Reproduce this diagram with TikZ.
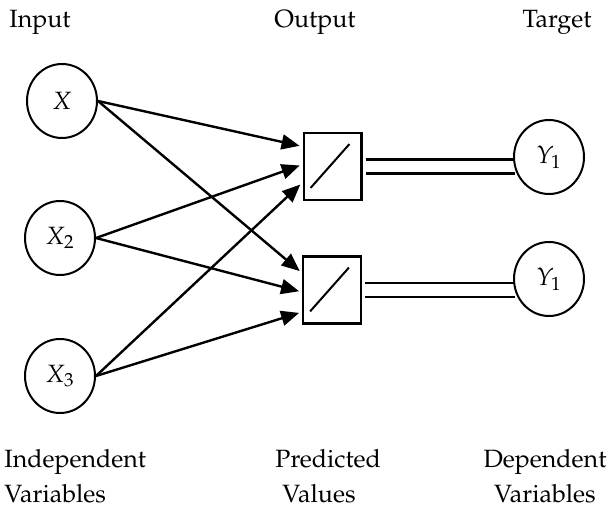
\documentclass[tikz,border=0pt]{standalone}
\usepackage[T1]{fontenc}
\usepackage{mathpazo}
\usetikzlibrary{arrows.meta}
\usetikzlibrary{shapes.geometric}
\usetikzlibrary{backgrounds}
\usetikzlibrary{positioning}

\tikzset{
  varnode/.style={draw, ellipse, line width=1pt, minimum width=35pt, minimum height=37pt, inner sep=0pt,
    font=\fontsize{12.5}{15}\selectfont},
  actbox/.style={draw, line width=1.1pt, minimum width=28.9pt, minimum height=33.4pt, inner sep=0pt,
    path picture={\draw[line width=1pt] ([shift={(3.5pt,6pt)}]path picture bounding box.south west)
      -- ([shift={(-6pt,-5.5pt)}]path picture bounding box.north east);}},
  wire/.style={-{Triangle[length=9pt,width=7.5pt]}, line width=1.2pt, shorten >=1.5pt},
  outwire/.style={double, line width=1.1pt, double distance=5.9pt, shorten <=1.5pt, shorten >=-1pt},
  lbl/.style={font=\fontsize{12.5}{17.5}\selectfont, inner sep=0pt}
}

\begin{document}
\begin{tikzpicture}[x=0.5pt, y=-0.5pt]
    \useasboundingbox (0,0) rectangle (609,507);

    % column titles
    \node[lbl, anchor=base] (inlbl) at (40,28) {Input};
    \node[lbl, anchor=base] (outlbl) at (315,28) {Output};
    \node[lbl, anchor=base] (tgtlbl) at (557,28) {Target};

    % input variables
    \node[varnode] (x1) at (62,101) {$X$};
    \node[varnode] (x2) at (60,238) {$X_2$};
    \node[varnode] (x3) at (60,376) {$X_3$};

    % output units
    \node[actbox] (b1) at (332.5,166.5) {};
    \node[actbox] (b2) at (332,290) {};

    % targets
    \node[varnode] (y1) at (549,157) {$Y_1$};
    \node[varnode] (y2) at (549,279) {$Y_1$};

    % weights
    \draw[wire] (x1.east) -- ([yshift=10pt]b1.west);
    \draw[wire] (x1.east) -- ([yshift=8.5pt]b2.west);
    \draw[wire] (x2.east) -- ([yshift=1pt]b1.west);
    \draw[wire] (x2.east) -- ([yshift=-1pt]b2.west);
    \draw[wire] (x3.east) -- ([yshift=-8pt]b1.west);
    \draw[wire] (x3.east) -- ([yshift=-11pt]b2.west);

    % comparison with targets
    \begin{scope}[on background layer]
        \draw[outwire] (b1.east) -- (b1.east -| y1.west);
        \draw[outwire] (b2.east) -- (b2.east -| y2.west);
    \end{scope}

    % bottom captions
    \node[lbl, anchor=north west, align=left] (indlbl) at (4,449) {Independent\\Variables};
    \node[lbl, anchor=north west, align=left] (predlbl) at (275,449) {Predicted\\\hspace*{3.5pt}Values};
    \node[lbl, anchor=north, align=center] (deplbl) at (545,449) {Dependent\\Variables};

\end{tikzpicture}
\end{document}
